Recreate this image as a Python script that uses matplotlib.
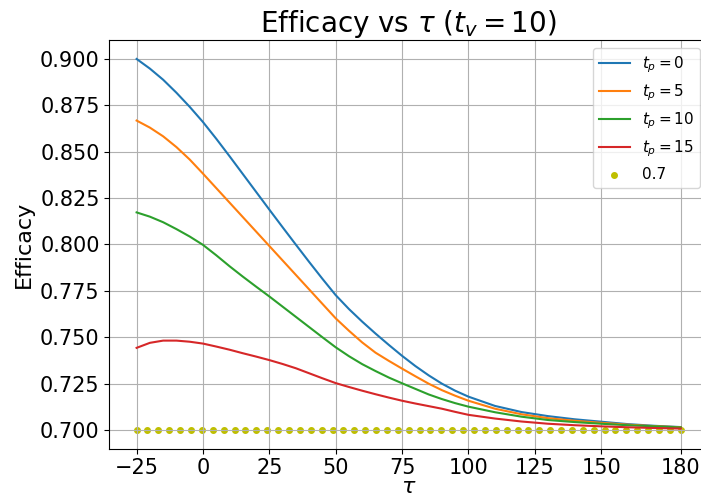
import numpy as np
import matplotlib
matplotlib.use('Agg')
import matplotlib.pyplot as plt

tau = [-25, -20, -15, -10, -5, 0, 5, 10, 15, 20, 25, 30, 35, 40, 45, 50,
       55, 60, 65, 70, 75, 80, 85, 90, 95, 100,
       110, 120, 130, 140, 150, 160, 170, 180]

eff_tp0 = [0.9000, 0.8948, 0.8888, 0.8818, 0.8742, 0.8660, 0.8570, 0.8476,
           0.8380, 0.8284, 0.8188, 0.8093, 0.7999, 0.7906, 0.7815, 0.7727,
           0.7652, 0.7584, 0.7520, 0.7459, 0.7400, 0.7345, 0.7295, 0.7250,
           0.7212, 0.7180, 0.7130, 0.7097, 0.7075, 0.7058, 0.7045, 0.7032,
           0.7023, 0.7016]
eff_tp5 = [0.8668, 0.8630, 0.8583, 0.8525, 0.8458, 0.8382, 0.8304, 0.8226,
           0.8148, 0.8070, 0.7992, 0.7914, 0.7836, 0.7758, 0.7680, 0.7602,
           0.7535, 0.7472, 0.7417, 0.7373, 0.7331, 0.7290, 0.7250, 0.7215,
           0.7185, 0.7158, 0.7115, 0.7085, 0.7064, 0.7050, 0.7039, 0.7029,
           0.7021, 0.7015]
eff_tp10 = [0.8173, 0.8150, 0.8120, 0.8083, 0.8043, 0.7998, 0.7942, 0.7883,
            0.7827, 0.7773, 0.7720, 0.7665, 0.7610, 0.7555, 0.7500, 0.7446,
            0.7398, 0.7355, 0.7318, 0.7283, 0.7252, 0.7222, 0.7192, 0.7167,
            0.7145, 0.7126, 0.7096, 0.7072, 0.7054, 0.7043, 0.7034, 0.7026,
            0.7020, 0.7014]
eff_tp15 = [0.7443, 0.7470, 0.7482, 0.7482, 0.7476, 0.7466, 0.7450, 0.7433,
            0.7414, 0.7396, 0.7377, 0.7356, 0.7333, 0.7306, 0.7279, 0.7253,
            0.7232, 0.7212, 0.7193, 0.7175, 0.7158, 0.7143, 0.7129, 0.7115,
            0.7098, 0.7082, 0.7062, 0.7046, 0.7034, 0.7026, 0.7020, 0.7015,
            0.7011, 0.7008]

series = [(eff_tp0, r'$t_p = 0$'), (eff_tp5, r'$t_p = 5$'),
          (eff_tp10, r'$t_p = 10$'), (eff_tp15, r'$t_p = 15$')]

baseline = 0.7
baseline_tau = np.linspace(-25, 180, 51)

xticks = [-25, 0, 25, 50, 75, 100, 125, 150, 180]
yticks = [0.700, 0.725, 0.750, 0.775, 0.800, 0.825, 0.850, 0.875, 0.900]

fig = plt.figure(figsize=(7.01, 4.97), dpi=100)
ax = fig.add_axes([109.4 / 701, 48.4 / 497, 598.6 / 701, 408.2 / 497])

for vals, lab in series:
    ax.plot(tau, vals, label=lab, linewidth=1.5)
ax.scatter(baseline_tau, [baseline] * len(baseline_tau), color='y', s=16, label='0.7')

ax.set_xticks(xticks)
ax.set_yticks(yticks)
ax.tick_params(labelsize=15)
ax.set_xlim(-35.25, 190.25)
ax.set_ylim(0.69, 0.91)
ax.grid(True)

ax.set_title(r'Efficacy vs $\tau$ ($t_v = 10$)', fontsize=20)
ax.set_xlabel(r'$\tau$', fontsize=16, labelpad=-1)
ax.set_ylabel('Efficacy', fontsize=16)
ax.legend(loc='upper right', fontsize=11)

fig.savefig('out.png', dpi=100)
